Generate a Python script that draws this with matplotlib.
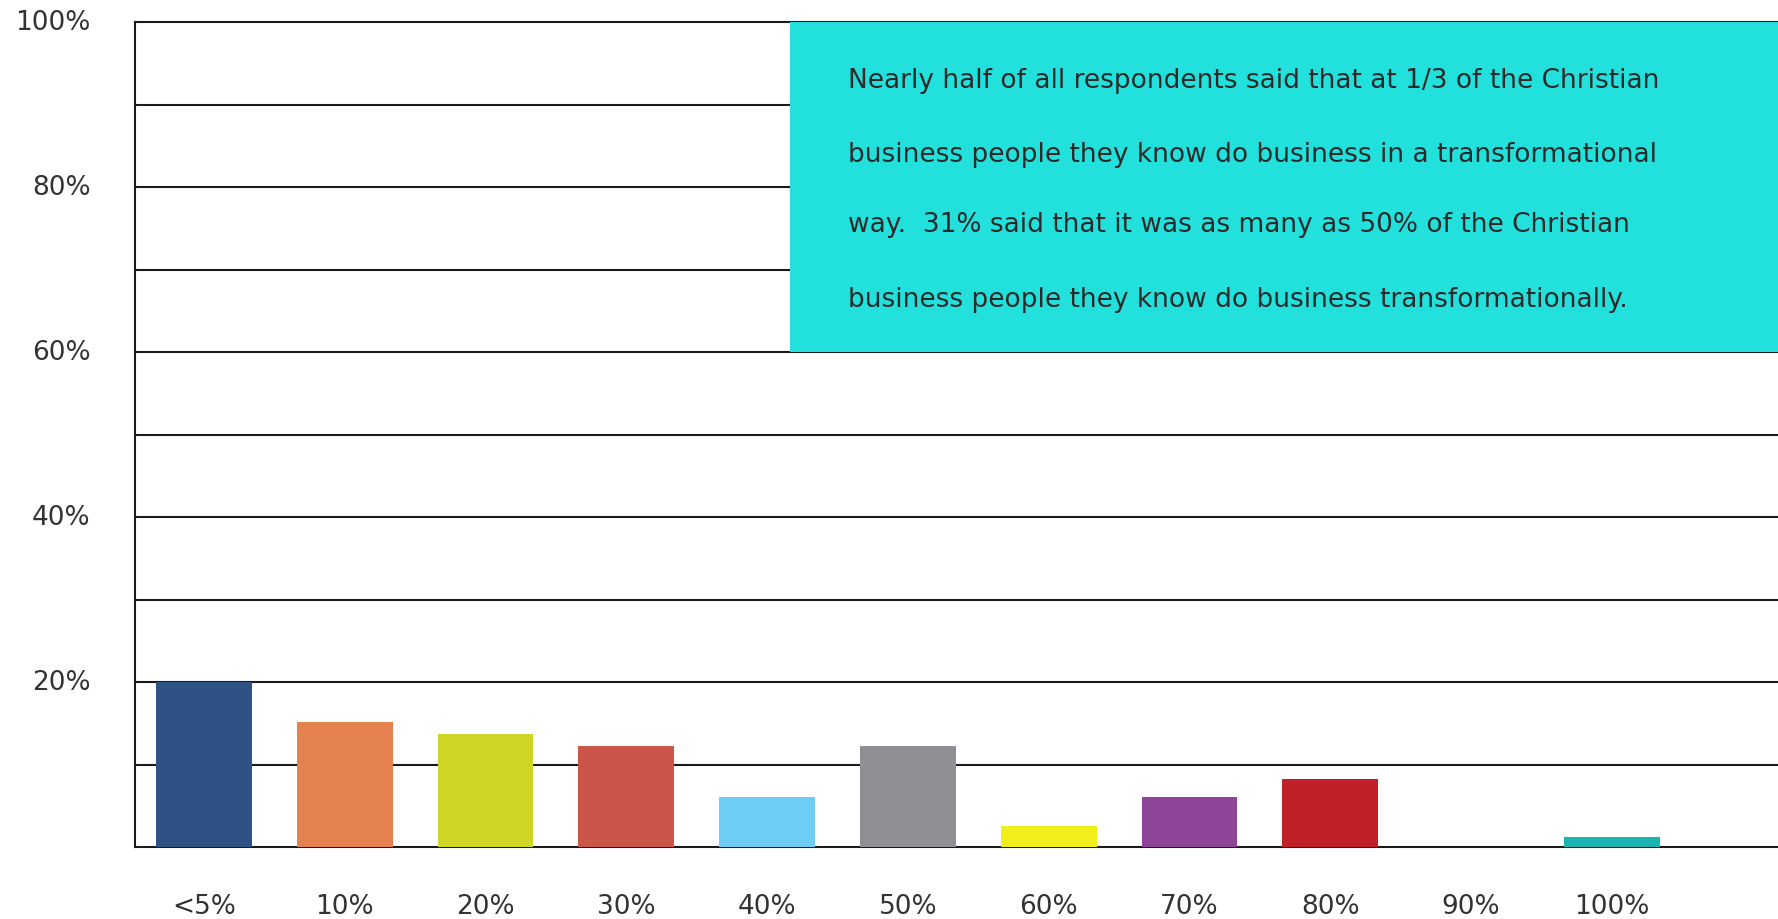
import matplotlib
matplotlib.use("Agg")
import matplotlib.pyplot as plt
import matplotlib.transforms as mtransforms
from matplotlib.patches import Rectangle

categories = ["<5%", "10%", "20%", "30%", "40%", "50%", "60%", "70%", "80%", "90%", "100%"]
values = [20.0, 15.1, 13.7, 12.3, 6.1, 12.3, 2.6, 6.1, 8.2, 0.0, 1.2]
colors = ["#2E5283", "#E5804F", "#CED524", "#CC5549", "#6ECCF5", "#8E9093",
          "#F2EE1C", "#8E4497", "#C02028", "#FFFFFF", "#1AB5B0"]
ytick_vals = list(range(0, 101, 10))
ytick_labels = ["" if (v % 20 or v == 0) else f"{v}%" for v in ytick_vals]
note_lines = [
    "Nearly half of all respondents said that at 1/3 of the Christian",
    "business people they know do business in a transformational",
    "way.  31% said that it was as many as 50% of the Christian",
    "business people they know do business transformationally.",
]

plt.rcParams['font.family'] = ['DejaVu Sans']

W, H = 1778, 920
fig = plt.figure(figsize=(W / 100, H / 100), dpi=100)
ax = fig.add_axes([135 / W, (H - 848) / H, (W - 135) / W, (848 - 23) / H])

x = list(range(len(categories)))
ax.bar(x, values, width=0.68, color=colors, zorder=3)

ax.set_xlim(-0.49, 11.18)
ax.set_ylim(0, 100)
ax.set_yticks(ytick_vals)
ax.set_yticklabels(ytick_labels, fontsize=19, color="#333333")
ax.set_xticks(x)
ax.set_xticklabels(categories, fontsize=19, color="#333333")
ax.tick_params(axis="y", length=0, pad=32)
ax.tick_params(axis="x", length=0, pad=33)
for lab in ax.get_yticklabels():
    lab.set_verticalalignment("center")

ax.grid(axis="y", color="#1a1a1a", linewidth=1.5, zorder=1)
ax.set_axisbelow(True)
for gl in ax.get_ygridlines():
    gl.set_clip_on(False)
for s in ["top", "right", "bottom"]:
    ax.spines[s].set_visible(False)
ax.spines["left"].set_color("#1a1a1a")
ax.spines["left"].set_linewidth(1.5)

# annotation box
trans = mtransforms.blended_transform_factory(ax.transAxes, ax.transData)
box_left = (790 - 135) / (W - 135)
ax.add_patch(Rectangle((box_left, 60), 1.0 - box_left, 40, transform=trans,
                       facecolor="#22E0DC", edgecolor="none", zorder=4, clip_on=False))
text_left = (848 - 135) / (W - 135)
line_y = [93.0, 84.0, 75.5, 66.4]
for ly, t in zip(line_y, note_lines):
    ax.text(text_left, ly, t, transform=trans, fontsize=19, color="#2a2a2a",
            ha="left", va="center", zorder=5)

fig.savefig("out.png", dpi=100, facecolor="white")
